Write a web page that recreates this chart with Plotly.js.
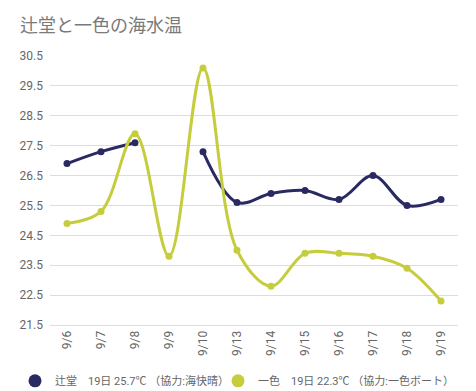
<!DOCTYPE html>
<html><head><meta charset="utf-8">
<script src="https://cdn.plot.ly/plotly-3.0.1.min.js"></script>
<style>html,body{margin:0;padding:0;background:#fff;}#chart{width:476px;height:391px;}</style>
</head><body><div id="chart"></div>
<script>
const categories = ["9/6","9/7","9/8","9/9","9/10","9/13","9/14","9/15","9/16","9/17","9/18","9/19"];
const tsujido = [26.9, 27.3, 27.6, null, 27.3, 25.6, 25.9, 26.0, 25.7, 26.5, 25.5, 25.7];
const isshiki = [24.9, 25.3, 27.9, 23.8, 30.1, 24.0, 22.8, 23.9, 23.9, 23.8, 23.4, 22.3];
const yTicks = [21.5, 22.5, 23.5, 24.5, 25.5, 26.5, 27.5, 28.5, 29.5, 30.5];
const names = ["辻堂　19日 25.7℃ （協力:海快晴）", "一色　19日 22.3℃ （協力:一色ボート）"];
const colors = ["#2a2a62", "#c5cd3d"];
const FONT = "Roboto, 'Noto Sans CJK JP', sans-serif";

const traces = [
  {x: categories, y: tsujido, type: "scatter", mode: "lines+markers", connectgaps: false,
   line: {color: colors[0], width: 3, shape: "spline", smoothing: 1}, marker: {color: colors[0], size: 7}, showlegend: false, hoverinfo: "x+y"},
  {x: categories, y: isshiki, type: "scatter", mode: "lines+markers",
   line: {color: colors[1], width: 3, shape: "spline", smoothing: 1}, marker: {color: colors[1], size: 7}, showlegend: false, hoverinfo: "x+y"},
  {x: [null], y: [null], type: "scatter", mode: "markers", name: names[0], legend: "legend", marker: {color: colors[0], size: 13}},
  {x: [null], y: [null], type: "scatter", mode: "markers", name: names[1], legend: "legend2", marker: {color: colors[1], size: 13}}
];

const legendBase = {orientation: "h", xref: "container", yref: "container", xanchor: "left",
  y: 0.026, yanchor: "middle", font: {size: 11, color: "#666"}, itemwidth: 30, bgcolor: "rgba(0,0,0,0)"};

const layout = {
  width: 476, height: 391,
  margin: {l: 50, r: 18, t: 56, b: 66},
  paper_bgcolor: "#fff", plot_bgcolor: "#fff",
  font: {family: FONT, size: 12, color: "#666"},
  title: {text: "辻堂と一色の海水温", x: 0.042, xanchor: "left", y: 0.935, yanchor: "middle",
          font: {family: FONT, size: 18, color: "#7a7a7a"}},
  xaxis: {type: "category", categoryorder: "array", categoryarray: categories,
          range: [-0.5, categories.length - 0.5], tickangle: -90,
          showgrid: false, showline: true, linecolor: "#ddd", linewidth: 1, ticks: "",
          tickfont: {size: 12, color: "#666"}, fixedrange: true},
  yaxis: {range: [21.5, 30.5], tickvals: yTicks, ticktext: yTicks.map(v => v.toFixed(1)),
          showgrid: true, gridcolor: "#ddd", gridwidth: 1, zeroline: false, ticks: "",
          ticklabelstandoff: 6, tickfont: {size: 12, color: "#666"}, fixedrange: true},
  legend: Object.assign({}, legendBase, {x: 15 / 476}),
  legend2: Object.assign({}, legendBase, {x: 218 / 476}),
  showlegend: true
};
Plotly.newPlot("chart", traces, layout, {displayModeBar: false, staticPlot: true});
</script></body></html>
